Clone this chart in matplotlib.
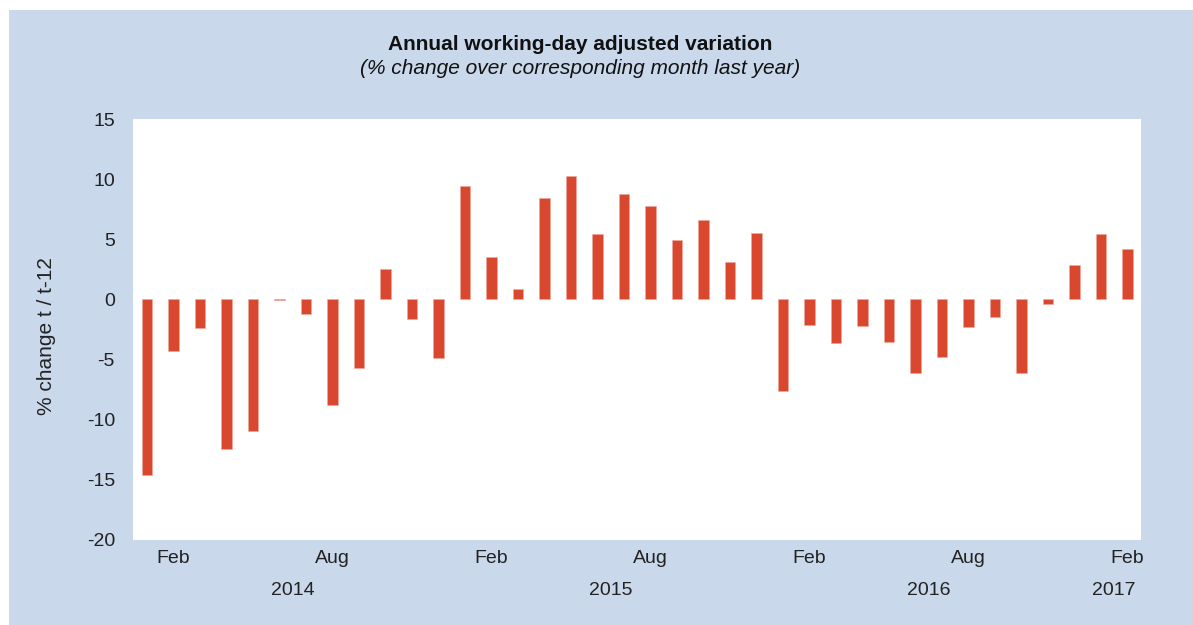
import matplotlib
matplotlib.use("Agg")
import matplotlib.pyplot as plt
from matplotlib.patches import Rectangle

# monthly values, Jan 2014 .. Feb 2017
months = ["Jan", "Feb", "Mar", "Apr", "May", "Jun",
          "Jul", "Aug", "Sep", "Oct", "Nov", "Dec"] * 3 + ["Jan", "Feb"]
years = [2014] * 12 + [2015] * 12 + [2016] * 12 + [2017] * 2
values = [
    -14.6, -4.3, -2.4, -12.4, -10.9, -0.05, -1.2, -8.8, -5.7, 2.5, -1.6, -4.9,
    9.4, 3.5, 0.9, 8.4, 10.3, 5.4, 8.75, 7.75, 4.9, 6.6, 3.1, 5.5,
    -7.6, -2.1, -3.6, -2.2, -3.5, -6.1, -4.8, -2.3, -1.45, -6.1, -0.37, 2.9,
    5.4, 4.2,
]
shown_months = ["Feb", "Aug"]

BG = "#c9d8eb"
BAR = "#d9472f"
INK = "#222222"
FONT = ["Liberation Sans", "DejaVu Sans"]

plt.rcParams["font.family"] = FONT
plt.rcParams["axes.unicode_minus"] = False

fig = plt.figure(figsize=(11.93, 6.25), dpi=100, facecolor="white")
fig.patches.append(Rectangle((9 / 1193, 0), 1 - 9 / 1193, 1 - 10 / 625,
                             transform=fig.transFigure, facecolor=BG,
                             edgecolor="none", zorder=-1))

ax = fig.add_axes([133 / 1193, 1 - 540 / 625, 1008 / 1193, 421 / 625])
ax.set_facecolor("white")

x = list(range(len(values)))
ax.bar(x, values, width=0.4, color=BAR, edgecolor="#f0a89c", linewidth=0.4)

ax.set_xlim(-0.53, len(values) - 0.49)
ax.set_ylim(-20, 15)
ax.set_yticks(range(-20, 16, 5))
ax.tick_params(axis="y", length=0, pad=13, labelsize=14, labelcolor=INK)

xt = [i for i, m in enumerate(months) if m in shown_months]
ax.set_xticks(xt)
ax.set_xticklabels([months[i] for i in xt])
ax.tick_params(axis="x", length=0, pad=7, labelsize=14, labelcolor=INK)

for s in ax.spines.values():
    s.set_visible(False)

# year labels centred under each year's bars
for yr in sorted(set(years)):
    idx = [i for i, y in enumerate(years) if y == yr]
    xc = (idx[0] + idx[-1]) / 2
    ax.text(xc, -0.12, str(yr), transform=ax.get_xaxis_transform(),
            ha="center", va="center", fontsize=14, color=INK)

ax.set_ylabel("% change t / t-12", fontsize=15, color=INK)
ax.yaxis.set_label_coords(-0.0765, 0.485)

fig.text(580 / 1193, 1 - 44 / 625, "Annual working-day adjusted variation",
         ha="center", va="center", fontsize=15, fontweight="bold",
         color="#111111")
fig.text(580 / 1193, 1 - 68 / 625, "(% change over corresponding month last year)",
         ha="center", va="center", fontsize=15, style="italic",
         color="#111111")

fig.savefig("out.png", dpi=100, facecolor="white")
